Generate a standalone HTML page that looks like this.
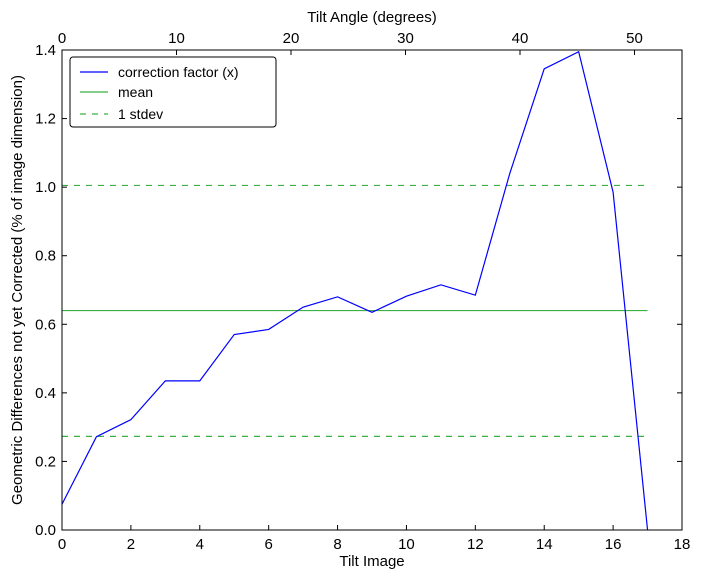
<!DOCTYPE html>
<html><head><meta charset="utf-8"><style>
body{margin:0;background:#fff;}
svg text{font-family:"Liberation Sans","DejaVu Sans",sans-serif;fill:#000;}
</style></head><body>
<svg id="chart" width="701" height="579" xmlns="http://www.w3.org/2000/svg"></svg>
<script>
const tiltImages=[0,1,2,3,4,5,6,7,8,9,10,11,12,13,14,15,16,17];
const correction=[0.075,0.272,0.322,0.435,0.435,0.57,0.585,0.65,0.68,0.635,0.682,0.715,0.685,1.04,1.345,1.395,0.985,0.0];
const meanValue=[0.64];
const stdevValues=[1.005,0.273];
const xTicks=[0,2,4,6,8,10,12,14,16,18];
const yTicks=[0.0,0.2,0.4,0.6,0.8,1.0,1.2,1.4];
const topTicks=[0,10,20,30,40,50];
const L=62,R=682,T=50,B=530;
const xMax=18,yMax=1.4,topMax=54.15;
const xs=v=>L+v/xMax*(R-L);
const ys=v=>B-v/yMax*(B-T);
const xt=v=>L+v/topMax*(R-L);
const svg=document.getElementById('chart');
const NS='http://www.w3.org/2000/svg';
function mk(tag,attrs,name,parent){const e=document.createElementNS(NS,tag);for(const k in attrs)e.setAttribute(k,attrs[k]);


(parent||svg).appendChild(e);return e;}
function txt(x,y,s,anchor,name,size,rot){const e=mk('text',{x:x,y:y,'text-anchor':anchor,'font-size':size||15},name);if(rot)e.setAttribute('transform',rot);e.textContent=s;return e;}
// lines
const sx0=xs(0),sx1=xs(17);
mk('line',{x1:sx0,x2:sx1,y1:ys(meanValue[0]),y2:ys(meanValue[0]),stroke:'#3cb043','stroke-width':1.2},'mean-line');
stdevValues.forEach((v,i)=>mk('line',{x1:sx0,x2:sx1,y1:ys(v),y2:ys(v),stroke:'#3cb043','stroke-width':1.2,'stroke-dasharray':'6,6'},'stdev-line-'+i));
mk('polyline',{points:tiltImages.map((t,i)=>xs(t)+','+ys(correction[i])).join(' '),fill:'none',stroke:'#0000ff','stroke-width':1.2},'correction-factor-line');
// frame
mk('rect',{x:L,y:T,width:R-L,height:B-T,fill:'none',stroke:'#000','stroke-width':1},'plot-frame');
xTicks.forEach(v=>{const x=xs(v);mk('line',{x1:x,x2:x,y1:B,y2:B-5,stroke:'#000'},'x-tick');txt(x,B+19,String(v),'middle','x-tick-label');});
topTicks.forEach(v=>{const x=xt(v);mk('line',{x1:x,x2:x,y1:T,y2:T+5,stroke:'#000'},'top-tick');txt(x,T-7,String(v),'middle','top-tick-label');});
yTicks.forEach(v=>{const y=ys(v);mk('line',{x1:L,x2:L+5,y1:y,y2:y,stroke:'#000'},'y-tick');mk('line',{x1:R,x2:R-5,y1:y,y2:y,stroke:'#000'},'y-tick-right');txt(L-6,y+5,v.toFixed(1),'end','y-tick-label');});
txt((L+R)/2,566,'Tilt Image','middle','x-axis-title');
txt((L+R)/2,22,'Tilt Angle (degrees)','middle','top-axis-title');
txt(22,290,'Geometric Differences not yet Corrected (% of image dimension)','middle','y-axis-title',15,'rotate(-90 22 290)');
// legend
const g=mk('g',{},'legend');
mk('rect',{x:70,y:57,width:206,height:70,rx:3,fill:'#fff',stroke:'#000'},'legend-box',g);
mk('line',{x1:80,x2:108,y1:72,y2:72,stroke:'#0000ff','stroke-width':1.2},'legend-swatch-correction',g);
mk('line',{x1:80,x2:108,y1:92,y2:92,stroke:'#3cb043','stroke-width':1.2},'legend-swatch-mean',g);
mk('line',{x1:80,x2:108,y1:114,y2:114,stroke:'#3cb043','stroke-width':1.2,'stroke-dasharray':'6,6'},'legend-swatch-stdev',g);
txt(118,77,'correction factor (x)','start','legend-label-correction',14);
txt(118,97,'mean','start','legend-label-mean',14);
txt(118,119,'1 stdev','start','legend-label-stdev',14);
</script>
</body></html>
